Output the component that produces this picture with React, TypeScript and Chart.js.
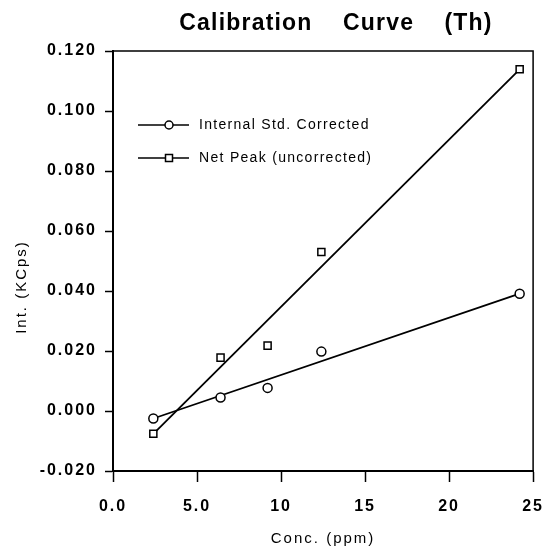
import { useEffect, useRef } from 'react';
import { Chart, registerables } from 'chart.js';

Chart.register(...registerables);

const concentrations = [2.4, 6.4, 9.2, 12.4, 24.2];
const internalStd = [-0.0025, 0.0045, 0.0077, 0.0198, 0.0391];
const netPeak = [-0.0076, 0.0178, 0.0218, 0.053, 0.1139];
const fitX = [2.4, 24.2];
const internalFitY = [-0.0025, 0.0391];
const netFitY = [-0.0076, 0.1139];
const xTickLabels = ['0.0', '5.0', '10', '15', '20', '25'];
const seriesLabels = ['Internal Std. Corrected', 'Net Peak (uncorrected)'];
const chartTitle = 'Calibration    Curve    (Th)';
const xAxisTitle = 'Conc. (ppm)';
const yAxisTitle = 'Int. (KCps)';

const FONT = '"Liberation Sans", Arial, Helvetica, sans-serif';

const decorPlugin = {
  id: 'decor',
  beforeLayout(chart: any) {
    chart.ctx.letterSpacing = '2px';
  },
  beforeDraw(chart: any) {
    const ctx = chart.ctx;
    ctx.save();
    ctx.fillStyle = '#fff';
    ctx.fillRect(0, 0, chart.width, chart.height);
    ctx.restore();
    ctx.letterSpacing = '2px';
  },
  afterDraw(chart: any) {
    const ctx = chart.ctx;
    const a = chart.chartArea;
    ctx.save();
    // frame top & right
    ctx.strokeStyle = '#000';
    ctx.lineWidth = 1.5;
    ctx.beginPath();
    ctx.moveTo(a.left, a.top);
    ctx.lineTo(a.right, a.top);
    ctx.lineTo(a.right, a.bottom);
    ctx.stroke();

    // title
    ctx.fillStyle = '#000';
    ctx.letterSpacing = '1.2px';
    ctx.font = `bold 23px ${FONT}`;
    ctx.textAlign = 'center';
    ctx.textBaseline = 'middle';
    ctx.fillText(chartTitle, 336, 24);

    // y axis title
    ctx.save();
    ctx.letterSpacing = '2px';
    ctx.font = `15px ${FONT}`;
    ctx.translate(22, 287);
    ctx.rotate(-Math.PI / 2);
    ctx.textAlign = 'center';
    ctx.textBaseline = 'middle';
    ctx.fillText(yAxisTitle, 0, 0);
    ctx.restore();

    // legend
    const rows = [
      { y: a.top + 74, style: 'circle', label: chart.data.datasets[0].label },
      { y: a.top + 107, style: 'rect', label: chart.data.datasets[1].label },
    ];
    const x0 = a.left + 25;
    const x1 = a.left + 76;
    const mx = a.left + 56;
    ctx.letterSpacing = '1.3px';
    ctx.font = `14px ${FONT}`;
    ctx.textAlign = 'left';
    ctx.textBaseline = 'middle';
    rows.forEach((r) => {
      ctx.strokeStyle = '#000';
      ctx.lineWidth = 1.5;
      ctx.beginPath();
      ctx.moveTo(x0, r.y);
      ctx.lineTo(x1, r.y);
      ctx.stroke();
      ctx.fillStyle = '#fff';
      ctx.beginPath();
      if (r.style === 'circle') {
        ctx.arc(mx, r.y, 4, 0, Math.PI * 2);
      } else {
        ctx.rect(mx - 3.5, r.y - 3.5, 7, 7);
      }
      ctx.fill();
      ctx.stroke();
      ctx.fillStyle = '#000';
      ctx.fillText(r.label, a.left + 86, r.y);
    });
    ctx.restore();
  },
};

export default function App() {
  const ref = useRef<HTMLCanvasElement | null>(null);

  useEffect(() => {
    if (!ref.current) return;
    const chart = new Chart(ref.current, {
      type: 'scatter',
      data: {
        datasets: [
          {
            label: seriesLabels[0],
            data: concentrations.map((x, i) => ({ x, y: internalStd[i] })),
            showLine: false,
            pointStyle: 'circle',
            pointRadius: 4.5,
            pointBackgroundColor: '#fff',
            pointBorderColor: '#000',
            pointBorderWidth: 1.5,
            order: 0,
          },
          {
            label: seriesLabels[1],
            data: concentrations.map((x, i) => ({ x, y: netPeak[i] })),
            showLine: false,
            pointStyle: 'rect',
            pointRadius: 5,
            pointBackgroundColor: '#fff',
            pointBorderColor: '#000',
            pointBorderWidth: 1.5,
            order: 0,
          },
          {
            label: 'fit1',
            data: fitX.map((x, i) => ({ x, y: internalFitY[i] })),
            showLine: true,
            pointRadius: 0,
            borderColor: '#000',
            borderWidth: 1.8,
            order: 1,
          },
          {
            label: 'fit2',
            data: fitX.map((x, i) => ({ x, y: netFitY[i] })),
            showLine: true,
            pointRadius: 0,
            borderColor: '#000',
            borderWidth: 1.8,
            order: 1,
          },
        ],
      },
      options: {
        animation: false,
        responsive: true,
        maintainAspectRatio: false,
        layout: { padding: { left: 0, right: 23, top: 51, bottom: 0 } },
        plugins: {
          legend: { display: false },
          tooltip: { enabled: false },
          title: { display: false },
        },
        scales: {
          x: {
            type: 'linear',
            min: 0,
            max: 25,
            afterFit: (s: any) => {
              s.height = 79;
            },
            ticks: {
              stepSize: 5,
              padding: 15,
              color: '#000',
              font: { family: FONT, size: 16, weight: 'bold' },
              callback: (_v: any, i: number) => xTickLabels[i],
              maxRotation: 0,
            },
            grid: {
              display: true,
              drawOnChartArea: false,
              drawTicks: true,
              tickLength: 11,
              tickColor: '#000',
              tickWidth: 1.5,
            },
            border: { display: true, color: '#000', width: 2 },
            title: {
              display: true,
              text: xAxisTitle,
              color: '#000',
              font: { family: FONT, size: 15 },
              padding: { top: 0, bottom: 2 },
            },
          },
          y: {
            type: 'linear',
            min: -0.02,
            max: 0.12,
            afterFit: (s: any) => {
              s.width = 113;
            },
            ticks: {
              stepSize: 0.02,
              padding: 8,
              color: '#000',
              font: { family: FONT, size: 16, weight: 'bold' },
              callback: (v: any) => {
                const n = Number(v);
                return (Math.abs(n) < 1e-9 ? 0 : n).toFixed(3);
              },
            },
            grid: {
              display: true,
              drawOnChartArea: false,
              drawTicks: true,
              tickLength: 8,
              tickColor: '#000',
              tickWidth: 1.5,
            },
            border: { display: true, color: '#000', width: 2 },
            title: { display: false },
          },
        },
      },
      plugins: [decorPlugin],
    } as any);
    return () => chart.destroy();
  }, []);

  return (
    <div
      style={{
        position: 'fixed',
        left: 0,
        top: 0,
        width: 559,
        height: 550,
        background: '#fff',
      }}
    >
      <canvas ref={ref} />
    </div>
  );
}
